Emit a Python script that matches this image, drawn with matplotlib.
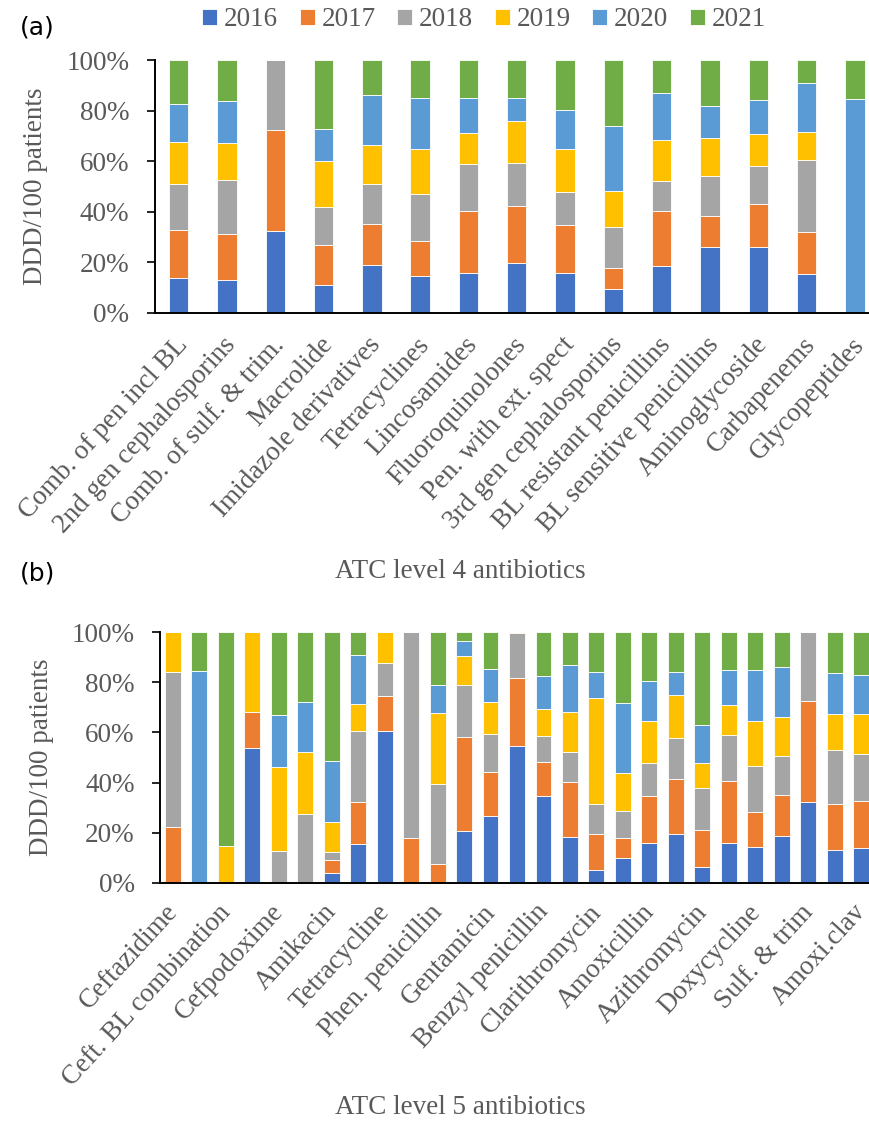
import matplotlib
matplotlib.use("Agg")
import matplotlib.pyplot as plt
import matplotlib.transforms as mtransforms
import numpy as np

years = ["2016", "2017", "2018", "2019", "2020", "2021"]
colors = ["#4472C4", "#ED7D31", "#A5A5A5", "#FFC000", "#5B9BD5", "#70AD47"]

# panel (a) - ATC level 4, share of DDD/100 patients per year (%)
labels_a = ["Comb. of pen incl BL", "2nd gen cephalosporins", "Comb. of sulf. & trim.",
            "Macrolide", "Imidazole derivatives", "Tetracyclines", "Lincosamides",
            "Fluoroquinolones", "Pen. with ext. spect", "3rd gen cephalosporins",
            "BL resistant penicillins", "BL sensitive penicillins", "Aminoglycoside",
            "Carbapenems", "Glycopeptides"]
a_2016 = [13.9, 13.1, 32.5, 10.9, 18.8, 14.7, 16.0, 19.6, 15.9, 9.3, 18.7, 26.1, 25.9, 15.6, 0]
a_2017 = [19.0, 18.3, 39.9, 15.8, 16.2, 13.9, 24.5, 22.8, 18.7, 8.6, 21.5, 12.4, 17.3, 16.6, 0]
a_2018 = [18.2, 21.3, 27.6, 15.2, 15.9, 18.3, 18.4, 16.9, 13.2, 16.1, 12.0, 15.6, 14.9, 28.4, 0]
a_2019 = [16.4, 14.4, 0, 18.3, 15.5, 17.9, 12.1, 16.7, 16.9, 14.1, 16.1, 14.9, 12.7, 10.9, 0]
a_2020 = [15.2, 16.5, 0, 12.5, 19.8, 20.2, 14.0, 8.9, 15.6, 25.8, 18.7, 12.7, 13.4, 19.4, 84.4]
a_2021 = [17.3, 16.4, 0, 27.3, 13.8, 15.0, 15.0, 15.1, 19.7, 26.1, 13.0, 18.3, 15.8, 9.1, 15.6]

# panel (b) - ATC level 5 (27 bars, only every second one is labelled)
labels_b = ["Ceftazidime", "Ceft. BL combination", "Cefpodoxime", "Amikacin",
            "Tetracycline", "Phen. penicillin", "Gentamicin", "Benzyl penicillin",
            "Clarithromycin", "Amoxicillin", "Azithromycin", "Doxycycline",
            "Sulf. & trim", "Amoxi.clav"]
b_2016 = [0, 0, 0, 53.7, 0, 0, 4.1, 15.6, 60.5, 0, 0, 20.9, 26.5, 54.5,
          34.5, 18.5, 5.3, 10.1, 16.1, 19.4, 6.4, 16.1, 14.5, 18.8, 32.4, 13.0, 14.1]
b_2017 = [22.5, 0, 0, 14.3, 0, 0, 5.0, 16.6, 14.1, 18.0, 7.7, 37.4, 17.7, 27.3,
          13.6, 21.6, 14.1, 7.7, 18.4, 21.9, 14.8, 24.4, 13.6, 16.2, 40.0, 18.4, 18.7]
b_2018 = [61.5, 0, 0, 0, 12.9, 27.3, 3.2, 28.3, 13.1, 82.0, 31.8, 20.4, 15.1, 17.8,
          10.6, 12.0, 11.9, 11.0, 13.4, 16.6, 16.5, 18.4, 18.5, 15.7, 27.6, 21.5, 18.5]
b_2019 = [16.0, 0, 14.6, 32.0, 33.2, 24.8, 11.9, 11.0, 12.3, 0, 28.4, 11.7, 12.9, 0.4,
          10.7, 16.2, 42.3, 15.1, 16.8, 16.9, 10.0, 11.9, 18.1, 15.6, 0, 14.3, 16.2]
b_2020 = [0, 84.4, 0, 0, 20.9, 20.1, 24.3, 19.4, 0, 0, 11.1, 6.1, 12.9, 0,
          13.2, 18.7, 10.6, 27.7, 15.9, 9.2, 15.3, 14.2, 20.3, 19.9, 0, 16.6, 15.2]
b_2021 = [0, 15.6, 85.4, 0, 33.0, 27.8, 51.5, 9.1, 0, 0, 21.0, 3.5, 14.9, 0,
          17.4, 13.0, 15.8, 28.4, 19.4, 16.0, 37.0, 15.0, 15.0, 13.8, 0, 16.2, 17.3]

serif = "Liberation Serif"
grey = "#595959"
fs = 19.5


def stacked(ax, series, width):
    n = len(series[0])
    x = np.arange(n)
    bottom = np.zeros(n)
    for vals, c, yr in zip(series, colors, years):
        v = np.array(vals) / 100.0
        ax.bar(x, v, width, bottom=bottom, color=c, edgecolor="white",
               linewidth=0.6, label=yr, zorder=2)
        bottom += v
    ax.set_xlim(-0.5, n - 0.5)
    ax.set_ylim(0, 1)
    ticks = np.arange(0, 1.01, 0.2)
    ax.set_yticks(ticks)
    ax.set_yticklabels(["{}%".format(int(round(t * 100))) for t in ticks],
                       fontfamily=serif, fontsize=fs, color=grey)
    for s in ["top", "right"]:
        ax.spines[s].set_visible(False)
    for s in ["left", "bottom"]:
        ax.spines[s].set_linewidth(1.4)
    ax.tick_params(axis="y", length=6, width=1.2, pad=12)
    ax.set_ylabel("DDD/100 patients", fontfamily=serif, fontsize=fs, color=grey, labelpad=13)
    return x


def rotated_labels(ax, pos, names, pad, dx):
    ax.set_xticks(pos)
    ax.set_xticklabels(names, rotation=47.5, ha="right", va="top", rotation_mode="anchor",
                       fontfamily=serif, fontsize=fs, color=grey)
    ax.tick_params(axis="x", length=0, pad=pad)
    shift = mtransforms.ScaledTranslation(dx / 72.0, 0, ax.figure.dpi_scale_trans)
    for lab in ax.get_xticklabels():
        lab.set_transform(lab.get_transform() + shift)


fig = plt.figure(figsize=(8.69, 11.23), dpi=100)

ax1 = fig.add_axes([154.5 / 869, 1 - 313 / 1123, 724.5 / 869, 253 / 1123])
x1 = stacked(ax1, [a_2016, a_2017, a_2018, a_2019, a_2020, a_2021], 0.4)
rotated_labels(ax1, x1, labels_a, 14, -3)

ax2 = fig.add_axes([159.6 / 869, 1 - 883 / 1123, 714.8 / 869, 251 / 1123])
x2 = stacked(ax2, [b_2016, b_2017, b_2018, b_2019, b_2020, b_2021], 0.6)
rotated_labels(ax2, x2[::2], labels_b, 12, -6)

fig.text(460 / 869, 1 - 572 / 1123, "ATC level 4 antibiotics", ha="center", va="center",
         fontfamily=serif, fontsize=fs, color=grey)
fig.text(460 / 869, 1 - 1108 / 1123, "ATC level 5 antibiotics", ha="center", va="center",
         fontfamily=serif, fontsize=fs, color=grey)
fig.text(20 / 869, 1 - 28 / 1123, "(a)", ha="left", va="center", fontsize=18, color="black")
fig.text(20 / 869, 1 - 573 / 1123, "(b)", ha="left", va="center", fontsize=18, color="black")

handles, lbls = ax1.get_legend_handles_labels()
fig.legend(handles, lbls, loc="center", bbox_to_anchor=(484 / 869, 1 - 20 / 1123), ncol=6,
           frameon=False, prop={"family": serif, "size": fs}, labelcolor=grey,
           handlelength=0.55, handleheight=0.55, handletextpad=0.25, columnspacing=0.8,
           borderpad=0)

fig.savefig("out.png", dpi=100)
